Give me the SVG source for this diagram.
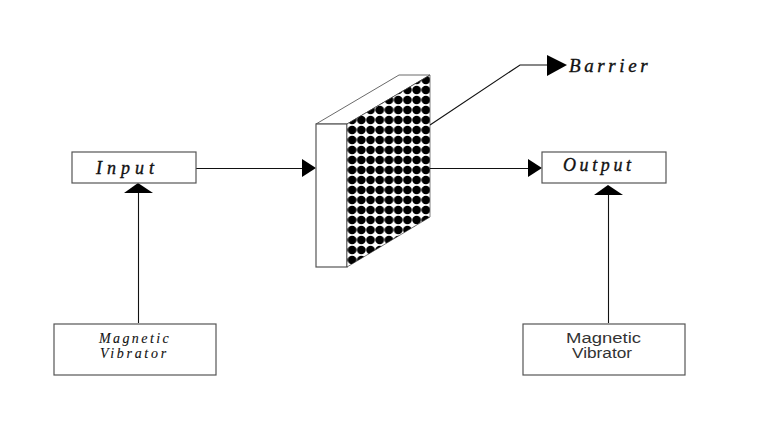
<svg xmlns="http://www.w3.org/2000/svg" width="762" height="433" viewBox="0 0 762 433">
<style>
.box{fill:#fff;stroke:#555;stroke-width:1.2}
.ln{fill:none;stroke:#111;stroke-width:1.1}
.head{fill:#000;stroke:none}
.it{font-family:"Liberation Serif",serif;font-style:italic;fill:#111;stroke:#111;stroke-width:0.35}
.small{font-size:14px;stroke-width:0.1}
.sans{font-family:"Liberation Sans",sans-serif;fill:#333;font-size:14px}
</style>
<defs>
<pattern id="dots" x="347.5" y="75" width="9.22" height="10" patternUnits="userSpaceOnUse">
<ellipse cx="4.6" cy="5" rx="4.4" ry="4.2" fill="#000"/>
</pattern>
</defs>
<rect width="762" height="433" fill="#fff"/>
<g id="connectors">
<path class="ln" d="M196 168.5H303"/>
<polygon class="head" points="302,159 316,168 302,177"/>
<path class="ln" d="M430 168.5H529"/>
<polygon class="head" points="528,159 542,168 528,177"/>
<path class="ln" d="M138.5 323V192"/>
<polygon class="head" points="138,183 153,193 124,193"/>
<path class="ln" d="M608.5 323V194"/>
<polygon class="head" points="608,185 623,195 594,195"/>
<path class="ln" d="M430 125L520 65H548"/>
<polygon class="head" points="547,55 567,65 547,76"/>
</g>
<g id="barrier">
<path d="M316 124L399 75H430L347 124Z" fill="#fff" stroke="#444" stroke-width="0.8"/>
<rect x="316" y="124" width="31" height="143" fill="#fff" stroke="#555" stroke-width="1.2"/>
<polygon points="347,124 430,75 430,217 347,267" fill="#fff"/>
<polygon points="347,124 430,75 430,217 347,267" fill="url(#dots)" stroke="#222" stroke-width="0.6"/>
</g>
<g id="barrier-label"><text class="it" x="569" y="72" font-size="19" letter-spacing="3.6">Barrier</text></g>
<g id="input">
<rect class="box" x="72" y="152" width="124" height="31"/>
<text class="it" x="96" y="174" font-size="18" letter-spacing="5">Input</text>
</g>
<g id="output">
<rect class="box" x="542" y="152" width="124" height="31"/>
<text class="it" x="563" y="171" font-size="18" letter-spacing="3.6">Output</text>
</g>
<g id="vibrator-left">
<rect class="box" x="54" y="324" width="162" height="51"/>
<text class="it small" x="99" y="343" letter-spacing="2.4">Magnetic</text>
<text class="it small" x="100" y="358" letter-spacing="2.7">Vibrator</text>
</g>
<g id="vibrator-right">
<rect class="box" x="523" y="324" width="162" height="51"/>
<text class="sans" x="566" y="343" textLength="75" lengthAdjust="spacingAndGlyphs">Magnetic</text>
<text class="sans" x="572" y="358" textLength="60" lengthAdjust="spacingAndGlyphs">Vibrator</text>
</g>
</svg>
